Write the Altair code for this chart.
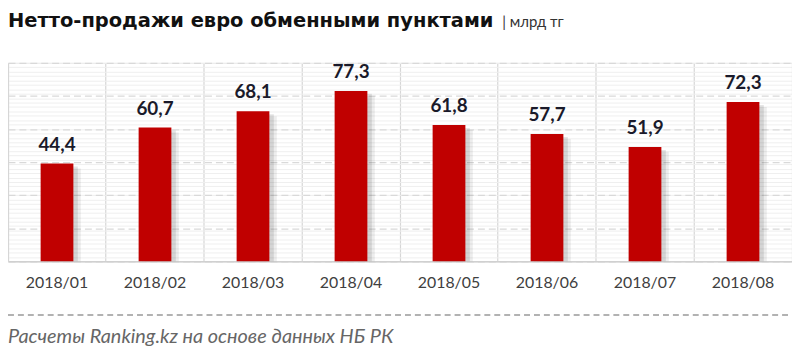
import altair as alt
import pandas as pd

months = ["2018/01", "2018/02", "2018/03", "2018/04", "2018/05", "2018/06", "2018/07", "2018/08"]
values = [44.4, 60.7, 68.1, 77.3, 61.8, 57.7, 51.9, 72.3]
labels = ["44,4", "60,7", "68,1", "77,3", "61,8", "57,7", "51,9", "72,3"]
title_main = "Нетто-продажи евро обменными пунктами"
title_unit = "| млрд тг"
footer = "Расчеты Ranking.kz на основе данных  НБ РК"

df = pd.DataFrame({"month": months, "value": values, "label": labels})

W, H = 790, 200
x_enc = alt.X("month:N", sort=months, title=None,
              scale=alt.Scale(paddingInner=0, paddingOuter=0),
              axis=alt.Axis(labelFont="Lato", labelFontSize=16, labelColor="#404040",
                            labelPadding=13, ticks=False, domain=True, domainColor="#d0d0d0",
                            domainWidth=1.5, grid=True, gridColor="#d6d6d6", gridWidth=1.2,
                            bandPosition=0, labelAngle=0))
y_scale = alt.Scale(domain=[0, 90], nice=False)
y_enc = alt.Y("value:Q", scale=y_scale, title=None,
              axis=alt.Axis(values=[0, 15, 30, 45, 60, 75, 90], grid=True, gridColor="#d9d9d9",
                            gridDash=[7, 4], gridWidth=1.2, labels=False, ticks=False,
                            domain=True, domainColor="#d6d6d6", domainWidth=1.2))
x_plain = alt.X("month:N", sort=months)
y_plain = alt.Y("value:Q", scale=y_scale, axis=None)

base = alt.Chart(df)

minor = base.mark_bar(opacity=0).encode(
    x=x_enc,
    y=alt.Y("value:Q", scale=y_scale, title=None,
            axis=alt.Axis(values=[v / 2 for v in range(0, 181, 4)], grid=True, gridColor="#efefef",
                          gridWidth=1, labels=False, ticks=False, domain=True,
                          domainColor="#d6d6d6", domainWidth=1.2, orient="right")),
)

grid = base.mark_bar(opacity=0).encode(x=x_enc, y=y_enc)

shadow1 = base.mark_bar(size=34, color="#000000", opacity=0.10, xOffset=4, yOffset=3, clip=True).encode(
    x=x_plain, y=y_plain)
shadow2 = base.mark_bar(size=34, color="#000000", opacity=0.07, xOffset=7, yOffset=5, clip=True).encode(
    x=x_plain, y=y_plain)

bars = base.mark_bar(size=33, color="#C00000").encode(x=x_plain, y=y_plain)

text = base.mark_text(font="Lato", fontSize=19, fontWeight="bold", color="#1a1a2a",
                      baseline="bottom", dy=-9).encode(x=x_plain, y=y_plain, text="label:N")

tdf = pd.DataFrame({"t": [title_main]})
title1 = alt.Chart(tdf).mark_text(font="DejaVu Sans", fontSize=19.6, fontWeight="bold", color="#111111",
                                   align="left", baseline="middle").encode(
    x=alt.value(0), y=alt.value(-42), text="t:N")
udf = pd.DataFrame({"t": [title_unit]})
title2 = alt.Chart(udf).mark_text(font="Lato", fontSize=15, color="#333333",
                                   align="left", baseline="middle").encode(
    x=alt.value(498), y=alt.value(-41), text="t:N")
fdf = pd.DataFrame({"t": [footer]})
foot = alt.Chart(fdf).mark_text(font="Lato", fontSize=20, fontStyle="italic", color="#666666",
                                 align="left", baseline="middle").encode(
    x=alt.value(0), y=alt.value(276), text="t:N")
line = alt.Chart(fdf).mark_rule(color="#999999", strokeDash=[6, 4], strokeWidth=1.5).encode(
    x=alt.value(0), x2=alt.value(792), y=alt.value(254))

chart = alt.layer(minor, grid, shadow2, shadow1, bars, text, title1, title2, foot, line).resolve_scale(
    y="shared").resolve_axis(y="independent").properties(
    width=W, height=H,
    autosize=alt.AutoSizeParams(type="none"),
    padding={"left": 0, "top": 54, "right": 0, "bottom": 86},
).configure_view(stroke=None).configure(background="white")

chart.save("out.html", embed_options={"renderer": "svg", "actions": False})
